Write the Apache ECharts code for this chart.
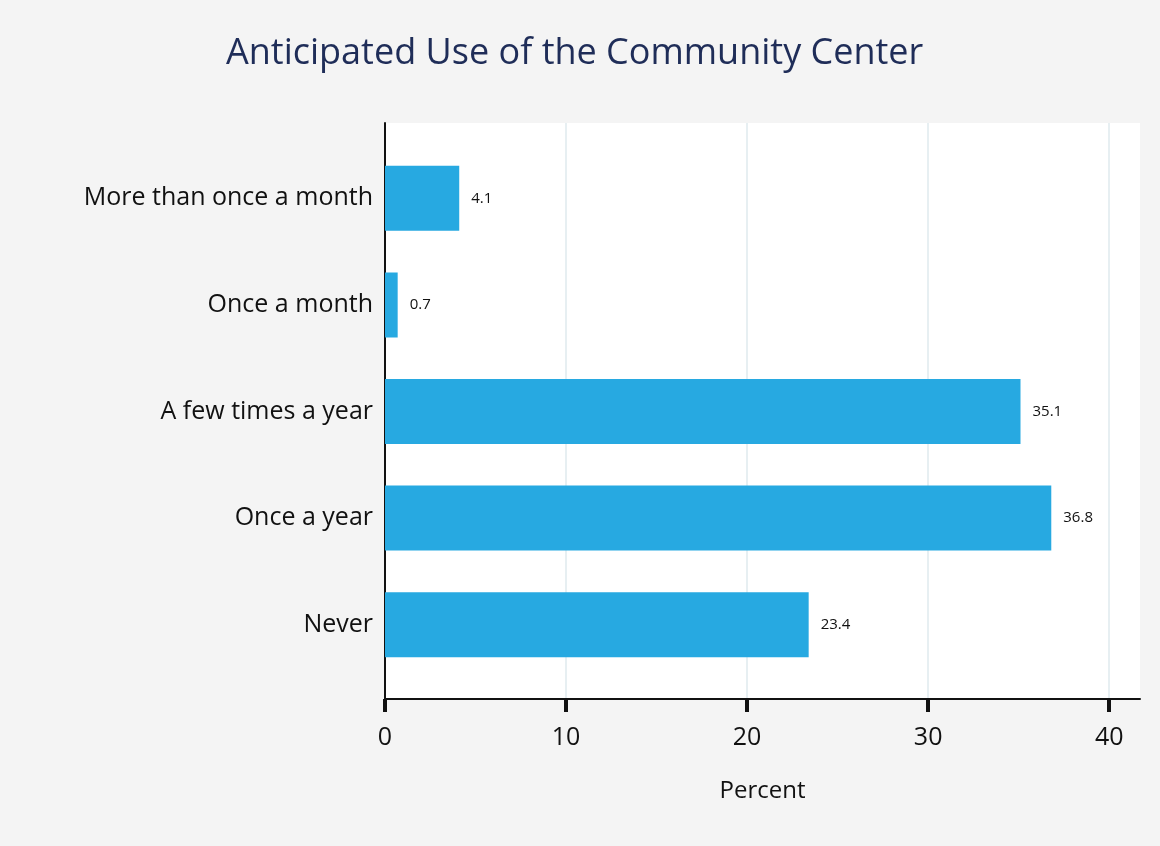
<!DOCTYPE html>
<html>
<head>
<meta charset="utf-8">
<script src="https://cdn.jsdelivr.net/npm/echarts@6/dist/echarts.min.js"></script>
<style>
  html, body { margin: 0; padding: 0; background: #f4f4f4; }
  #chart { width: 1160px; height: 846px; }
</style>
</head>
<body>
<div id="chart"></div>
<script>
// Survey responses: how often respondents expect to use the community center
const categories = ['More than once a month', 'Once a month', 'A few times a year', 'Once a year', 'Never'];
const percents = [4.1, 0.7, 35.1, 36.8, 23.4];
const xTicks = [0, 10, 20, 30, 40];

const FONT = '"Open Sans", "Noto Sans", sans-serif';
const X_MAX = 41.7;

const chart = echarts.init(document.getElementById('chart'));
chart.setOption({
  backgroundColor: '#f4f4f4',
  textStyle: { fontFamily: FONT },
  title: {
    text: 'Anticipated Use of the Community Center',
    left: 221,
    top: 31,
    textStyle: { fontFamily: FONT, fontSize: 36, fontWeight: 'normal', color: '#1f2d58' }
  },
  grid: [
    // outer plot frame: white panel, gridlines, axes
    { left: 385, top: 123, width: 755, height: 576, show: true, backgroundColor: '#ffffff', borderWidth: 0 },
    // inner band area that holds the bars
    { left: 385, top: 145, width: 755, height: 533 }
  ],
  xAxis: [
    {
      gridIndex: 0, type: 'value', min: 0, max: X_MAX, interval: 10,
      name: 'Percent', nameLocation: 'middle', nameGap: 80,
      nameTextStyle: { fontFamily: FONT, fontSize: 24, color: '#111' },
      axisLine: { show: true, lineStyle: { color: '#111', width: 2 } },
      axisTick: { show: true, length: 13, lineStyle: { color: '#111', width: 4 } },
      axisLabel: {
        fontFamily: FONT, fontSize: 25, color: '#111', margin: 26,
        showMaxLabel: false, formatter: v => (xTicks.includes(v) ? String(v) : '')
      },
      splitLine: { show: true, showMaxLine: false, lineStyle: { color: '#e7eff2', width: 2 } }
    },
    { gridIndex: 1, type: 'value', min: 0, max: X_MAX, show: false }
  ],
  yAxis: [
    {
      gridIndex: 0, type: 'value', min: 0, max: 1,
      axisLine: { show: true, lineStyle: { color: '#111', width: 2 } },
      axisTick: { show: false }, axisLabel: { show: false }, splitLine: { show: false }
    },
    {
      gridIndex: 1, type: 'category', data: categories, inverse: true,
      axisLine: { show: false }, axisTick: { show: false }, splitLine: { show: false },
      axisLabel: { fontFamily: FONT, fontSize: 25, color: '#111', margin: 12 }
    }
  ],
  series: [{
    type: 'bar',
    xAxisIndex: 1, yAxisIndex: 1,
    data: percents,
    barWidth: 65,
    itemStyle: { color: '#27a9e1' },
    label: {
      show: true, position: 'right', distance: 12,
      fontFamily: FONT, fontSize: 15, color: '#111',
      formatter: p => p.value.toFixed(1)
    },
    silent: true
  }],
  animation: false
});
</script>
</body>
</html>
